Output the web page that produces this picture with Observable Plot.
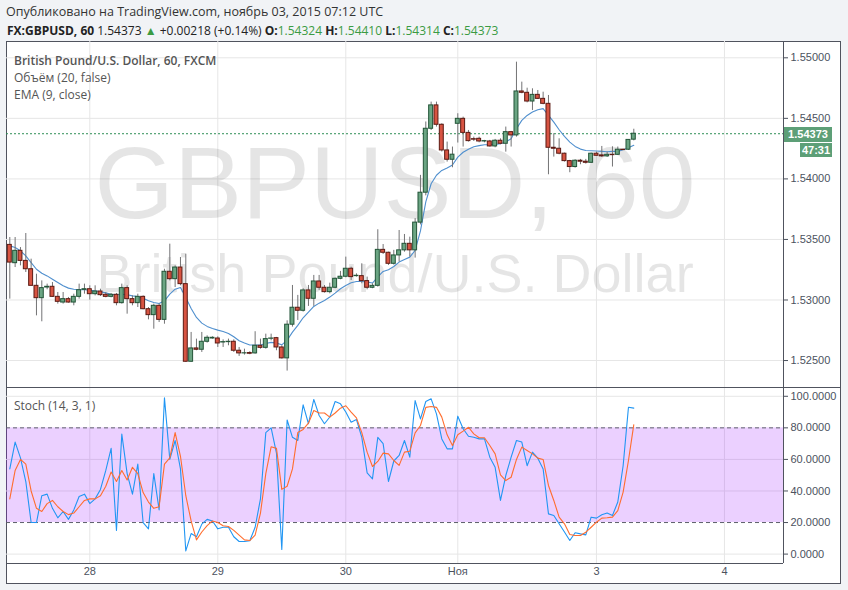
<!DOCTYPE html>
<html lang="ru">
<head>
<meta charset="utf-8">
<script src="https://cdn.jsdelivr.net/npm/d3@7"></script>
<script src="https://cdn.jsdelivr.net/npm/@observablehq/plot@0.6"></script>
<style>
html,body{margin:0;padding:0;background:#f1f3f6;}
#root{position:relative;width:848px;height:590px;overflow:hidden;background:#f1f3f6;font-family:"Open Sans",sans-serif;}
.abs{position:absolute;}
#h1{left:6px;top:3px;font-size:12.5px;color:#333;white-space:nowrap;}
#h2{left:7px;top:22px;font-size:12px;color:#222;white-space:nowrap;}
#h2 b{font-weight:700;}
.g{color:#3b9b43;}
#box{left:6px;top:41px;width:835px;height:543px;box-sizing:border-box;border:1px solid #50535e;background:#fff;}
#pricePane{left:6px;top:41px;}
#stochPane{left:6px;top:388px;}
#sep{left:6px;top:387px;width:835px;height:1px;background:#50535e;}
.lbl{font-size:12px;color:#555;white-space:nowrap;}
.tag{position:absolute;background:#5d9f77;color:#fff;font:bold 11px "Liberation Sans",Arial,sans-serif;text-align:center;line-height:15px;}
</style>
</head>
<body>
<div id="root">
  <div id="h1" class="abs">Опубликовано на TradingView.com, ноябрь 03, 2015 07:12 UTC</div>
  <div id="h2" class="abs"><b>FX:GBPUSD, 60</b> 1.54373 <span class="g">▲</span> +0.00218 (+0.14%) <b>O:</b><span class="g">1.54324</span> <b>H:</b><span class="g">1.54410</span> <b>L:</b><span class="g">1.54314</span> <b>C:</b><span class="g">1.54373</span></div>
  <div id="box" class="abs"></div>
  <div id="pricePane" class="abs"></div>
  <div id="stochPane" class="abs"></div>
  <div id="sep" class="abs"></div>
  <div class="abs lbl" style="left:14px;top:52px;font-weight:600">British Pound/U.S. Dollar, 60, FXCM</div>
  <div class="abs lbl" style="left:14px;top:69px;">Объём (20, false)</div>
  <div class="abs lbl" style="left:14px;top:86px;">EMA (9, close)</div>
  <div class="abs lbl" style="left:14px;top:397px;">Stoch (14, 3, 1)</div>
</div>
<script>
// ---- data (hourly bars, Oct 27 09:00 UTC .. Nov 3 07:00 UTC) ----
const barOpen = [1.53455,1.53304,1.53406,1.53323,1.53254,1.53117,1.53015,1.53103,1.53109,1.53026,
1.52979,1.53007,1.52979,1.53026,1.53084,1.53089,1.53048,1.53070,1.53043,1.53026,
1.53043,1.52974,1.53098,1.53007,1.52974,1.53026,1.52924,1.52875,1.52952,1.52836,
1.53233,1.53172,1.53268,1.53131,1.52490,1.52600,1.52589,1.52655,1.52682,1.52682,
1.52649,1.52652,1.52655,1.52581,1.52559,1.52562,1.52559,1.52622,1.52605,1.52680,
1.52685,1.52608,1.52518,1.52796,1.52936,1.52911,1.53079,1.53010,1.53153,1.53101,
1.53065,1.53101,1.53175,1.53192,1.53258,1.53197,1.53197,1.53156,1.53101,1.53117,
1.53414,1.53390,1.53299,1.53368,1.53410,1.53464,1.53410,1.53639,1.53886,1.54414,
1.54607,1.54447,1.54235,1.54158,1.54455,1.54496,1.54380,1.54328,1.54331,1.54309,
1.54309,1.54268,1.54315,1.54290,1.54386,1.54359,1.54722,1.54711,1.54639,1.54694,
1.54661,1.54620,1.54257,1.54249,1.54208,1.54147,1.54098,1.54150,1.54142,1.54133,
1.54208,1.54194,1.54186,1.54199,1.54199,1.54241,1.54241,1.54324];
const barHigh = [1.53516,1.53516,1.53433,1.53549,1.53337,1.53213,1.53158,1.53131,1.53144,1.53062,
1.53062,1.53021,1.53048,1.53131,1.53131,1.53117,1.53117,1.53089,1.53062,1.53054,
1.53054,1.53131,1.53117,1.53034,1.53048,1.53034,1.52938,1.52966,1.52966,1.53254,
1.53461,1.53282,1.53351,1.53378,1.52732,1.52677,1.52732,1.52704,1.52696,1.52696,
1.52671,1.52677,1.52671,1.52608,1.52594,1.52573,1.52738,1.52677,1.52718,1.52718,
1.52691,1.52622,1.52828,1.53120,1.53038,1.53093,1.53120,1.53203,1.53203,1.53120,
1.53139,1.53181,1.53236,1.53354,1.53271,1.53216,1.53299,1.53189,1.53134,1.53580,
1.53458,1.53395,1.53410,1.53574,1.53541,1.53519,1.53672,1.54029,1.54470,1.54634,
1.54634,1.54455,1.54304,1.54263,1.54538,1.54510,1.54400,1.54345,1.54345,1.54318,
1.54318,1.54326,1.54331,1.54428,1.54392,1.54964,1.54799,1.54749,1.54744,1.54730,
1.54716,1.54689,1.54373,1.54331,1.54213,1.54153,1.54158,1.54161,1.54161,1.54213,
1.54221,1.54268,1.54221,1.54265,1.54263,1.54246,1.54325,1.54410];
const barLow = [1.53007,1.53268,1.53282,1.53227,1.53117,1.52869,1.52820,1.53084,1.53021,1.52966,
1.52966,1.52974,1.52952,1.53007,1.53048,1.52999,1.53034,1.53029,1.53018,1.53018,
1.52952,1.52966,1.52883,1.52952,1.52938,1.52919,1.52836,1.52759,1.52814,1.52800,
1.53158,1.53103,1.53117,1.52485,1.52485,1.52581,1.52567,1.52644,1.52677,1.52608,
1.52608,1.52622,1.52567,1.52534,1.52545,1.52548,1.52553,1.52594,1.52594,1.52663,
1.52581,1.52512,1.52413,1.52776,1.52831,1.52900,1.52947,1.52947,1.53079,1.53057,
1.53051,1.53093,1.53167,1.53183,1.53161,1.53189,1.53134,1.53084,1.53093,1.53106,
1.53376,1.53285,1.53288,1.53313,1.53395,1.53354,1.53346,1.53620,1.53860,1.54400,
1.54428,1.54222,1.54139,1.54092,1.54296,1.54263,1.54304,1.54309,1.54298,1.54298,
1.54263,1.54257,1.54282,1.54221,1.54263,1.54345,1.54703,1.54628,1.54565,1.54656,
1.54612,1.54034,1.54180,1.54199,1.54139,1.54051,1.54089,1.54117,1.54122,1.54128,
1.54188,1.54177,1.54177,1.54098,1.54194,1.54235,1.54235,1.54314];
const barClose = [1.53309,1.53406,1.53323,1.53254,1.53117,1.53015,1.53098,1.53109,1.53026,1.52985,
1.53007,1.52979,1.53026,1.53081,1.53089,1.53048,1.53070,1.53040,1.53026,1.53043,
1.52974,1.53098,1.53007,1.52974,1.53026,1.52924,1.52875,1.52952,1.52836,1.53233,
1.53172,1.53268,1.53131,1.52490,1.52600,1.52589,1.52655,1.52688,1.52688,1.52641,
1.52652,1.52655,1.52581,1.52559,1.52560,1.52556,1.52622,1.52605,1.52677,1.52682,
1.52608,1.52518,1.52796,1.52936,1.52911,1.53079,1.53010,1.53153,1.53101,1.53065,
1.53101,1.53175,1.53192,1.53258,1.53189,1.53200,1.53156,1.53101,1.53117,1.53414,
1.53390,1.53299,1.53368,1.53410,1.53464,1.53410,1.53639,1.53886,1.54414,1.54607,
1.54447,1.54235,1.54158,1.54200,1.54496,1.54380,1.54312,1.54324,1.54309,1.54312,
1.54268,1.54315,1.54290,1.54386,1.54359,1.54722,1.54711,1.54639,1.54694,1.54661,
1.54620,1.54257,1.54249,1.54208,1.54147,1.54098,1.54150,1.54142,1.54133,1.54208,
1.54191,1.54186,1.54199,1.54196,1.54241,1.54238,1.54322,1.54373];
const ema9 = [1.53447,1.53433,1.53406,1.53364,1.53309,1.53254,1.53221,1.53199,1.53172,1.53144,
1.53117,1.53098,1.53089,1.53084,1.53084,1.53081,1.53076,1.53068,1.53059,1.53048,
1.53043,1.53048,1.53043,1.53034,1.53029,1.53015,1.52993,1.52979,1.52971,1.52993,
1.53048,1.53089,1.53103,1.53021,1.52930,1.52856,1.52809,1.52782,1.52765,1.52751,
1.52740,1.52724,1.52696,1.52663,1.52644,1.52628,1.52628,1.52628,1.52641,1.52650,
1.52644,1.52630,1.52668,1.52735,1.52790,1.52853,1.52900,1.52947,1.52974,1.52996,
1.53024,1.53057,1.53093,1.53120,1.53142,1.53153,1.53153,1.53148,1.53140,1.53190,
1.53236,1.53250,1.53277,1.53313,1.53335,1.53354,1.53409,1.53570,1.53810,1.53960,
1.54030,1.54070,1.54090,1.54115,1.54180,1.54220,1.54245,1.54265,1.54275,1.54282,
1.54282,1.54285,1.54290,1.54304,1.54332,1.54414,1.54483,1.54524,1.54552,1.54571,
1.54580,1.54524,1.54469,1.54406,1.54351,1.54304,1.54268,1.54246,1.54235,1.54233,
1.54230,1.54227,1.54224,1.54227,1.54227,1.54240,1.54257,1.54277];
const stochK = [54,71,61,46,20,20,37,38,29,23,
27,22,28,36.5,38,32,35,41,53,67,
15,76,51,38,57,20,16,51,28,99,
60,72,54,2,13,11,19,22,21,16,
17,17,11,8,8,8.5,17,35,77,80,
64,3,85,74,72,94.6,82.6,98,87.8,82.6,
86.9,96.7,95.2,90,83.6,85.3,74,51.5,47.7,74,
70,46,59,62.5,72,61.4,97.3,85.7,96.7,98.4,
88.9,73,66.7,66.7,87.4,79.4,74.7,74,73,73,
61.4,55,34,49.8,61.4,72,71,56,64.6,60.8,
54,25.5,24.5,19.2,14,8.6,13.5,12.8,12.2,23.4,
22.8,24.9,26,24.5,33,56,93.1,92.5];
const stochD = [35,53,60,57,40,29,27,32,34,30,
27,25,26,30,34,35,35,37,43,52,
46,53,47,55,51,39,33,29,30,57,
61,77,62,37,21,9,14,18,21,20,
18,17.5,15,12,9,8.6,12,26,51,68,
67,41,43,54,77,79,83,91,89.4,89.4,
86.8,89.4,92.5,94,90,86.3,77,64.6,55.5,58.7,
64,63.5,59.3,56.2,64.6,65.2,76.8,81.5,93,93.5,
93,86.8,75.6,68.8,75.6,77.9,80.4,76.2,73.7,73.7,
68.8,63.5,50.2,46.6,48.7,60,67.8,65.7,63.5,60.8,
60,43.5,34,23.4,19.2,12.4,11.8,11.8,13.9,17,
20.2,22.8,23,23.4,27.6,39.3,59.3,82];
const dayTickBars = [15, 39, 63, 84, 110, 134];
const dayTickLabels = ["28", "29", "30", "Ноя", "3", "4"];
const priceTicks = [1.525, 1.53, 1.535, 1.54, 1.545, 1.55];
const stochTicks = [0, 20, 40, 60, 80, 100];
const stochGrid = [0, 40, 60, 100];
const lastPrice = 1.54373;
const watermark1 = "GBPUSD, 60";
const watermark2 = "British Pound/U.S. Dollar";

// ---- build ----
const bars = barOpen.map((o, i) => ({i, o, h: barHigh[i], l: barLow[i], c: barClose[i]}));
const W = 835, plotW = 777;
const xDomain = [-3.3 * 3 / 16, (plotW - 3.3) * 3 / 16];
const upFill = "#6ba583", upStroke = "#225437", dnFill = "#d75442", dnStroke = "#5b1a13";
const gridC = "#e6e6e6", axisC = "#50535e";

const price = Plot.plot({
  width: W, height: 346,
  marginLeft: 0, marginRight: W - plotW, marginTop: 0, marginBottom: 0,
  style: {background: "transparent", overflow: "visible", fontFamily: "'Liberation Sans', Arial, sans-serif", fontSize: "11px", color: "#4c525e"},
  x: {domain: xDomain, axis: null},
  y: {domain: [1.522774, 1.551346], axis: "right", ticks: priceTicks, tickFormat: d => d.toFixed(5), tickSize: 4, tickPadding: 3, label: null},
  color: {type: "identity"},
  marks: [
    Plot.ruleY(priceTicks, {stroke: gridC}),
    Plot.ruleX(dayTickBars, {stroke: gridC}),
    Plot.text([watermark1], {frameAnchor: "middle", dy: -29, fontSize: 102, fill: "#000", fillOpacity: 0.1, fontFamily: "'Liberation Sans', Arial, sans-serif"}),
    Plot.text([watermark2], {frameAnchor: "middle", dy: 60, fontSize: 54, fill: "#000", fillOpacity: 0.1, fontFamily: "'Liberation Sans', Arial, sans-serif"}),
    Plot.ruleY([lastPrice], {stroke: "#2f8f57", strokeDasharray: "2,2"}),
    Plot.line(ema9, {x: (d, i) => i, y: d => d, stroke: "#4f8fce", strokeWidth: 1.1}),
    Plot.ruleX(bars, {x: "i", y1: "l", y2: "h", stroke: "#737375"}),
    Plot.rect(bars, {x1: d => d.i - 0.37, x2: d => d.i + 0.37, y1: "o", y2: "c",
      fill: d => d.c >= d.o ? upFill : dnFill, stroke: d => d.c >= d.o ? upStroke : dnStroke}),
    Plot.ruleX([xDomain[1]], {stroke: axisC})
  ]
});
document.getElementById("pricePane").append(price);

const stoch = Plot.plot({
  width: W, height: 195,
  marginLeft: 0, marginRight: W - plotW, marginTop: 0, marginBottom: 20,
  style: {background: "transparent", overflow: "visible", fontFamily: "'Liberation Sans', Arial, sans-serif", fontSize: "11px", color: "#4c525e"},
  x: {domain: xDomain, axis: "bottom", ticks: dayTickBars, tickFormat: d => dayTickLabels[dayTickBars.indexOf(d)], tickSize: 0, tickPadding: 4, label: null},
  y: {domain: [-5.96, 104.94], axis: "right", ticks: stochTicks, tickFormat: d => d.toFixed(4), tickSize: 4, tickPadding: 3, label: null},
  marks: [
    Plot.ruleY(stochGrid, {stroke: gridC}),
    Plot.ruleX(dayTickBars, {stroke: gridC}),
    Plot.rect([{lo: 20, hi: 80}], {x1: () => xDomain[0], x2: () => xDomain[1], y1: "lo", y2: "hi", fill: "#9915ff", fillOpacity: 0.2}),
    Plot.ruleY([20, 80], {stroke: "#5d606b", strokeDasharray: "4,3"}),
    Plot.line(stochK, {x: (d, i) => i, y: d => d, stroke: "#2196f3", strokeWidth: 1.1}),
    Plot.line(stochD, {x: (d, i) => i, y: d => d, stroke: "#ff6d2e", strokeWidth: 1.1}),
    Plot.ruleX([xDomain[1]], {stroke: axisC}),
    Plot.ruleY([-5.96], {stroke: axisC})
  ]
});
document.getElementById("stochPane").append(stoch);

// price tag boxes on the right scale
const yLast = 41 + price.scale("y").apply(lastPrice);
const root = document.getElementById("root");
const tag1 = document.createElement("div");
tag1.className = "tag";
tag1.style.cssText = `left:784px;top:${yLast - 6.5}px;width:48px;height:15px;`;
tag1.textContent = lastPrice.toFixed(5);
root.append(tag1);
const tag2 = document.createElement("div");
tag2.className = "tag";
tag2.style.cssText = `left:800px;top:${yLast + 10}px;width:32px;height:14px;line-height:14px;`;
tag2.textContent = "47:31";
root.append(tag2);
</script>
</body>
</html>
